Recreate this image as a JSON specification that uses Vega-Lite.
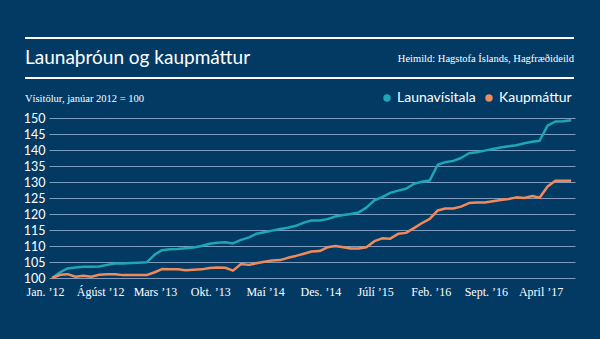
{
  "$schema": "https://vega.github.io/schema/vega-lite/v6.json",
  "width": 526,
  "height": 160,
  "autosize": {"type": "none"},
  "padding": {"left": 49, "top": 118, "right": 25, "bottom": 61},
  "background": "#033a64",
  "config": {
    "view": {"stroke": null},
    "axis": {"domain": false, "ticks": false}
  },
  "data": {
    "values": [
      {"date": "2012-01-01", "Launavísitala": 100.0, "Kaupmáttur": 100.0},
      {"date": "2012-02-01", "Launavísitala": 101.8, "Kaupmáttur": 101.0},
      {"date": "2012-03-01", "Launavísitala": 103.0, "Kaupmáttur": 101.2},
      {"date": "2012-04-01", "Launavísitala": 103.3, "Kaupmáttur": 100.4},
      {"date": "2012-05-01", "Launavísitala": 103.5, "Kaupmáttur": 100.7},
      {"date": "2012-06-01", "Launavísitala": 103.5, "Kaupmáttur": 100.4},
      {"date": "2012-07-01", "Launavísitala": 103.6, "Kaupmáttur": 101.0},
      {"date": "2012-08-01", "Launavísitala": 104.1, "Kaupmáttur": 101.2},
      {"date": "2012-09-01", "Launavísitala": 104.5, "Kaupmáttur": 101.2},
      {"date": "2012-10-01", "Launavísitala": 104.5, "Kaupmáttur": 100.9},
      {"date": "2012-11-01", "Launavísitala": 104.7, "Kaupmáttur": 100.9},
      {"date": "2012-12-01", "Launavísitala": 104.8, "Kaupmáttur": 100.9},
      {"date": "2013-01-01", "Launavísitala": 104.9, "Kaupmáttur": 100.9},
      {"date": "2013-02-01", "Launavísitala": 107.3, "Kaupmáttur": 101.8},
      {"date": "2013-03-01", "Launavísitala": 108.7, "Kaupmáttur": 102.8},
      {"date": "2013-04-01", "Launavísitala": 109.0, "Kaupmáttur": 102.7},
      {"date": "2013-05-01", "Launavísitala": 109.1, "Kaupmáttur": 102.7},
      {"date": "2013-06-01", "Launavísitala": 109.3, "Kaupmáttur": 102.4},
      {"date": "2013-07-01", "Launavísitala": 109.5, "Kaupmáttur": 102.6},
      {"date": "2013-08-01", "Launavísitala": 110.0, "Kaupmáttur": 102.7},
      {"date": "2013-09-01", "Launavísitala": 110.7, "Kaupmáttur": 103.1},
      {"date": "2013-10-01", "Launavísitala": 111.0, "Kaupmáttur": 103.3},
      {"date": "2013-11-01", "Launavísitala": 111.2, "Kaupmáttur": 103.2},
      {"date": "2013-12-01", "Launavísitala": 110.8, "Kaupmáttur": 102.3},
      {"date": "2014-01-01", "Launavísitala": 111.9, "Kaupmáttur": 104.4},
      {"date": "2014-02-01", "Launavísitala": 112.7, "Kaupmáttur": 104.1},
      {"date": "2014-03-01", "Launavísitala": 113.8, "Kaupmáttur": 104.6},
      {"date": "2014-04-01", "Launavísitala": 114.3, "Kaupmáttur": 105.1},
      {"date": "2014-05-01", "Launavísitala": 114.8, "Kaupmáttur": 105.5},
      {"date": "2014-06-01", "Launavísitala": 115.3, "Kaupmáttur": 105.6},
      {"date": "2014-07-01", "Launavísitala": 115.7, "Kaupmáttur": 106.3},
      {"date": "2014-08-01", "Launavísitala": 116.3, "Kaupmáttur": 106.9},
      {"date": "2014-09-01", "Launavísitala": 117.3, "Kaupmáttur": 107.6},
      {"date": "2014-10-01", "Launavísitala": 118.0, "Kaupmáttur": 108.3},
      {"date": "2014-11-01", "Launavísitala": 118.0, "Kaupmáttur": 108.4},
      {"date": "2014-12-01", "Launavísitala": 118.4, "Kaupmáttur": 109.6},
      {"date": "2015-01-01", "Launavísitala": 119.2, "Kaupmáttur": 110.0},
      {"date": "2015-02-01", "Launavísitala": 119.7, "Kaupmáttur": 109.6},
      {"date": "2015-03-01", "Launavísitala": 120.0, "Kaupmáttur": 109.2},
      {"date": "2015-04-01", "Launavísitala": 120.5, "Kaupmáttur": 109.2},
      {"date": "2015-05-01", "Launavísitala": 122.0, "Kaupmáttur": 109.6},
      {"date": "2015-06-01", "Launavísitala": 124.3, "Kaupmáttur": 111.5},
      {"date": "2015-07-01", "Launavísitala": 125.3, "Kaupmáttur": 112.4},
      {"date": "2015-08-01", "Launavísitala": 126.6, "Kaupmáttur": 112.3},
      {"date": "2015-09-01", "Launavísitala": 127.3, "Kaupmáttur": 113.8},
      {"date": "2015-10-01", "Launavísitala": 127.9, "Kaupmáttur": 114.1},
      {"date": "2015-11-01", "Launavísitala": 129.4, "Kaupmáttur": 115.6},
      {"date": "2015-12-01", "Launavísitala": 130.1, "Kaupmáttur": 117.1},
      {"date": "2016-01-01", "Launavísitala": 130.5, "Kaupmáttur": 118.5},
      {"date": "2016-02-01", "Launavísitala": 135.4, "Kaupmáttur": 121.1},
      {"date": "2016-03-01", "Launavísitala": 136.2, "Kaupmáttur": 121.7},
      {"date": "2016-04-01", "Launavísitala": 136.6, "Kaupmáttur": 121.7},
      {"date": "2016-05-01", "Launavísitala": 137.5, "Kaupmáttur": 122.3},
      {"date": "2016-06-01", "Launavísitala": 139.0, "Kaupmáttur": 123.4},
      {"date": "2016-07-01", "Launavísitala": 139.3, "Kaupmáttur": 123.6},
      {"date": "2016-08-01", "Launavísitala": 139.8, "Kaupmáttur": 123.6},
      {"date": "2016-09-01", "Launavísitala": 140.3, "Kaupmáttur": 124.0},
      {"date": "2016-10-01", "Launavísitala": 140.8, "Kaupmáttur": 124.4},
      {"date": "2016-11-01", "Launavísitala": 141.2, "Kaupmáttur": 124.7},
      {"date": "2016-12-01", "Launavísitala": 141.5, "Kaupmáttur": 125.2},
      {"date": "2017-01-01", "Launavísitala": 142.1, "Kaupmáttur": 125.0},
      {"date": "2017-02-01", "Launavísitala": 142.6, "Kaupmáttur": 125.6},
      {"date": "2017-03-01", "Launavísitala": 142.9, "Kaupmáttur": 125.1},
      {"date": "2017-04-01", "Launavísitala": 147.6, "Kaupmáttur": 128.6},
      {"date": "2017-05-01", "Launavísitala": 148.9, "Kaupmáttur": 130.4},
      {"date": "2017-06-01", "Launavísitala": 149.0, "Kaupmáttur": 130.4},
      {"date": "2017-07-01", "Launavísitala": 149.3, "Kaupmáttur": 130.4}
    ],
    "format": {"parse": {"date": "utc:'%Y-%m-%d'"}}
  },
  "layer": [
    {
      "transform": [{"fold": ["Launavísitala", "Kaupmáttur"], "as": ["series", "value"]}],
      "mark": {"type": "line", "strokeWidth": 2.5, "strokeJoin": "round"},
      "encoding": {
        "x": {
          "field": "date",
          "type": "temporal",
          "scale": {
            "type": "utc",
            "domain": [
              {"year": 2011, "month": 12, "date": 20, "utc": true},
              {"year": 2017, "month": 7, "date": 16, "utc": true}
            ]
          },
          "axis": {
            "title": null,
            "grid": false,
            "values": [
              {"year": 2012, "month": 1, "date": 1, "utc": true},
              {"year": 2012, "month": 8, "date": 1, "utc": true},
              {"year": 2013, "month": 3, "date": 1, "utc": true},
              {"year": 2013, "month": 10, "date": 1, "utc": true},
              {"year": 2014, "month": 5, "date": 1, "utc": true},
              {"year": 2014, "month": 12, "date": 1, "utc": true},
              {"year": 2015, "month": 7, "date": 1, "utc": true},
              {"year": 2016, "month": 2, "date": 1, "utc": true},
              {"year": 2016, "month": 9, "date": 1, "utc": true},
              {"year": 2017, "month": 4, "date": 1, "utc": true}
            ],
            "labelExpr": "['Jan.','Feb.','Mars','April','Maí','Júní','Júlí','Ágúst','Sept.','Okt.','Nóv.','Des.'][utcmonth(datum.value)] + ' ’' + utcFormat(datum.value, '%y')",
            "labelFont": "Liberation Serif",
            "labelFontSize": 12,
            "labelColor": "#ffffff",
            "labelPadding": 8,
            "labelOffset": -7,
            "labelOverlap": false,
            "labelFlush": false
          }
        },
        "y": {
          "field": "value",
          "type": "quantitative",
          "scale": {"domain": [100, 150], "nice": false, "zero": false},
          "axis": {
            "title": null,
            "values": [100, 105, 110, 115, 120, 125, 130, 135, 140, 145, 150],
            "gridColor": "#7f9cbf",
            "gridWidth": 1,
            "labelFont": "Lato",
            "labelFontSize": 12.5,
            "labelColor": "#ffffff",
            "labelPadding": 4
          }
        },
        "color": {
          "field": "series",
          "type": "nominal",
          "scale": {"domain": ["Launavísitala", "Kaupmáttur"], "range": ["#1ea5b6", "#f08a5b"]},
          "legend": {
            "title": null,
            "orient": "none",
            "legendX": 331,
            "legendY": -27,
            "direction": "horizontal",
            "padding": 0,
            "symbolType": "circle",
            "symbolSize": 55,
            "symbolStrokeWidth": 0,
            "labelFont": "Lato",
            "labelFontSize": 14,
            "labelColor": "#ffffff",
            "labelOffset": 3,
            "columnPadding": 6,
            "encode": {"symbols": {"update": {"fill": {"scale": "color", "field": "value"}, "strokeWidth": {"value": 0}}}}
          }
        }
      }
    },
    {
      "data": {"values": [{"k": 1}]},
      "mark": {"type": "rule", "color": "#ffffff", "strokeWidth": 2},
      "encoding": {"x": {"value": -24}, "x2": {"value": 525}, "y": {"value": -80}}
    },
    {
      "data": {"values": [{"k": 1}]},
      "mark": {"type": "rule", "color": "#ffffff", "strokeWidth": 2},
      "encoding": {"x": {"value": -24}, "x2": {"value": 525}, "y": {"value": -40}}
    },
    {
      "data": {"values": [{"t": "Launaþróun og kaupmáttur"}]},
      "mark": {"type": "text", "align": "left", "baseline": "middle", "font": "Lato", "fontSize": 19, "color": "#ffffff"},
      "encoding": {"text": {"field": "t"}, "x": {"value": -24}, "y": {"value": -60}}
    },
    {
      "data": {"values": [{"t": "Heimild: Hagstofa Íslands, Hagfræðideild"}]},
      "mark": {"type": "text", "align": "right", "baseline": "middle", "font": "Liberation Serif", "fontSize": 10.5, "color": "#ffffff"},
      "encoding": {"text": {"field": "t"}, "x": {"value": 525}, "y": {"value": -59}}
    },
    {
      "data": {"values": [{"t": "Vísitölur, janúar 2012 = 100"}]},
      "mark": {"type": "text", "align": "left", "baseline": "middle", "font": "Liberation Serif", "fontSize": 10.5, "color": "#ffffff"},
      "encoding": {"text": {"field": "t"}, "x": {"value": -24}, "y": {"value": -19}}
    }
  ]
}
